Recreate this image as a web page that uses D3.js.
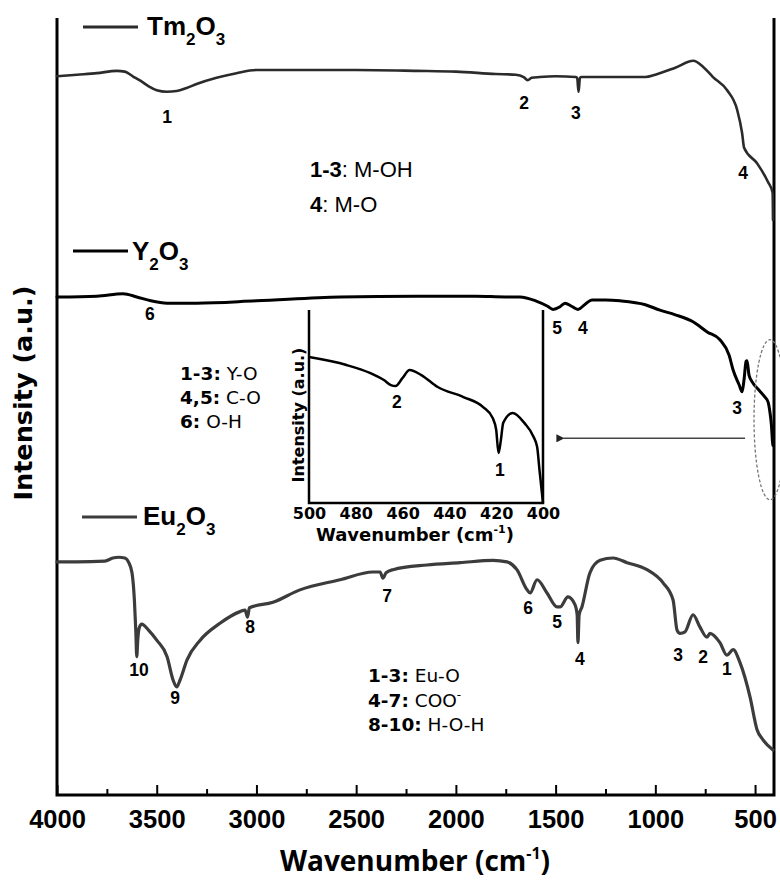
<!DOCTYPE html>
<html><head><meta charset="utf-8">
<script src="https://cdn.jsdelivr.net/npm/d3@7"></script>
<style>body{margin:0;background:#fff}</style>
</head><body><svg id="c" width="780" height="886"></svg>
<script>
// ---------- DATA ----------
const xTicksMajor = [4000,3500,3000,2500,2000,1500,1000,500];
const xTicksMinor = [3750,3250,2750,2250,1750,1250,750];
const insetTicks = [500,480,460,440,420,400];

const tmWave = [4000,3900,3800,3700,3660,3620,3580,3540,3500,3450,3400,3350,3300,3200,3100,3000,2800,2500,2200,2000,1800,1700,1660,1640,1620,1580,1500,1400,1392,1385,1378,1370,1200,1050,1000,900,810,760,711,640,590,565,555,490,435,412,410];
const tmInt  = [92.5,92.7,92.9,93.2,93.1,92.5,91.9,91.2,90.7,90.5,90.6,91.0,91.5,92.3,92.9,93.3,93.3,93.3,93.2,93.1,92.8,92.7,92.4,92.0,92.3,92.4,92.5,92.4,92.3,90.5,92.3,92.4,92.4,92.4,92.7,93.6,94.5,93.7,92.4,90.7,88.2,85.2,83.3,81.3,78.9,77.5,74.0];

const yWave = [4000,3800,3669,3600,3530,3448,3300,3000,2581,2200,1900,1750,1679,1600,1540,1513,1480,1453,1420,1388,1350,1318,1250,1177,1050,977,900,811,740,676,630,610,580,565,555,545,540,530,510,480,450,435,425,418,412,410];
const yInt  = [64.1,64.2,64.5,64.1,63.6,63.3,63.3,63.6,64.1,64.2,64.2,64.1,64.1,63.6,62.9,62.5,62.8,63.3,62.9,62.5,63.2,63.7,63.7,63.6,63.1,62.4,61.8,60.9,59.6,58.6,56.6,54.7,52.8,51.9,53.5,55.8,55.9,54.0,53.0,52.1,51.2,50.6,49.2,47.6,45.3,45.0];

const euWave = [4000,3900,3760,3720,3690,3660,3640,3624,3612,3605,3600,3595,3588,3575,3540,3499,3448,3418,3400,3383,3348,3283,3183,3082,3057,3045,3035,2917,2782,2581,2416,2380,2366,2350,2315,2145,1979,1814,1744,1694,1643,1628,1593,1543,1493,1478,1438,1403,1392,1388,1382,1368,1328,1277,1212,1142,1042,961,911,891,876,851,811,776,741,726,676,641,610,575,525,490,460,410];
const euInt  = [30.0,30.0,30.1,30.5,30.6,30.5,29.9,28.6,25.1,21.2,17.8,20.0,21.5,22.0,21.2,19.9,17.8,14.8,13.9,14.8,17.4,19.9,22.1,23.6,23.8,22.9,24.1,24.8,26.4,27.7,28.7,28.7,27.9,28.6,29.0,29.6,29.9,30.2,30.0,29.0,26.4,26.0,27.7,26.0,24.2,24.2,25.5,24.5,23.2,19.6,23.2,24.2,28.6,30.2,30.5,29.9,29.0,27.3,25.1,21.2,20.8,21.0,23.2,21.6,20.3,20.8,19.6,18.0,18.7,17.0,12.6,8.4,7.1,5.8];

const insWave = [500,484,474,468,465,463,460,457,452,445,434,425.6,421.5,420,419,418,417,413,408,404,402.5,401.5,400];
const insInt  = [75.6,71.5,67.4,63.7,61.1,60.6,64.8,68.9,66.3,60.1,54.9,49.7,44.0,37.8,25.9,32.6,41.5,46.6,41.5,34.2,29.0,17.1,0];

// peak labels: [text, wavenumber, intensity]
const tmPeaks = [["1",3448,87.3],["2",1658,89.1],["3",1398,87.8],["4",560,80.1]];
const yPeaks  = [["6",3534,61.9],["5",1493,60.2],["4",1363,60.2],["3",590,49.8]];
const euPeaks = [["10",3589,16.1],["9",3408,12.5],["8",3032,21.6],["7",2345,25.7],["6",1638,24.1],["5",1493,22.3],["4",1378,17.6],["3",886,18.0],["2",761,17.8],["1",641,16.3]];
const insPeaks = [["2",462.4,52.3],["1",418.4,17.1]];

const tmNotes = [["1-3",": M-OH"],["4",": M-O"]];
const yNotes  = [["1-3:"," Y-O"],["4,5:"," C-O"],["6:"," O-H"]];
const euNotes = [["1-3:"," Eu-O", ""],["4-7:"," COO", "-"],["8-10:"," H-O-H", ""]];

// ---------- DRAW ----------
const svg = d3.select("#c");
svg.append("rect").attr("width",780).attr("height",886).attr("fill","#fff");

const L=57, R=775, T=18, B=795;
const x = d3.scaleLinear().domain([4000,400]).range([L,R]);
const y = d3.scaleLinear().domain([0,100]).range([B,T]);
const AR = "'Liberation Sans', Arial, sans-serif";
const DJ = "'DejaVu Sans', Verdana, sans-serif";

// axes
const gMaj = svg.append("g").attr("transform",`translate(0,${B})`)
  .call(d3.axisBottom(x).tickValues(xTicksMajor).tickSizeInner(-10).tickSizeOuter(0).tickPadding(15).tickFormat(d3.format("d")));
gMaj.select(".domain").remove();
gMaj.selectAll(".tick line").attr("stroke","#000").attr("stroke-width",2);
gMaj.selectAll(".tick text").attr("font-family",AR).attr("font-weight","bold").attr("font-size",25.5).attr("fill","#000");
const gMin = svg.append("g").attr("transform",`translate(0,${B})`)
  .call(d3.axisBottom(x).tickValues(xTicksMinor).tickSizeInner(-6).tickSizeOuter(0).tickFormat(""));
gMin.select(".domain").remove();
gMin.selectAll(".tick line").attr("stroke","#000").attr("stroke-width",2);

svg.append("path").attr("d",`M${L},${T}V${B}H${R-1}V${T}`).attr("fill","none").attr("stroke","#000").attr("stroke-width",3);

// titles
const xt = svg.append("text").attr("x",415).attr("y",871).attr("text-anchor","middle")
  .attr("font-family","'Open Sans', sans-serif").attr("font-weight","bold").attr("font-size",28).attr("fill","#000");
xt.append("tspan").text("Wavenumber (cm");
xt.append("tspan").text("-1").attr("font-size",16).attr("dy",-12);
xt.append("tspan").text(")").attr("dy",12);

svg.append("text").attr("transform","translate(23,393) rotate(-90)").attr("text-anchor","middle").attr("dy","0.35em")
  .attr("font-family",DJ).attr("font-weight","bold").attr("font-size",25.5).attr("fill","#000").text("Intensity (a.u.)");

// series
const line = (wv, iv, sx, sy) => d3.line().curve(d3.curveMonotoneX).x((d,i)=>sx(wv[i])).y((d,i)=>sy(iv[i]))(wv);
const series = [
  {w:tmWave,v:tmInt,c:"#2b2b2b",sw:2.6},
  {w:yWave,v:yInt,c:"#000",sw:3},
  {w:euWave,v:euInt,c:"#3c3c3c",sw:3.2}
];
series.forEach(s=>{
  svg.append("path").attr("d",line(s.w,s.v,x,y)).attr("fill","none").attr("stroke",s.c)
    .attr("stroke-width",s.sw).attr("stroke-linejoin","round").attr("stroke-linecap","round");
});

// legends
function legend(x1,x2,ly,tx,ty,name,col){
  svg.append("line").attr("x1",x1).attr("x2",x2).attr("y1",ly).attr("y2",ly).attr("stroke",col).attr("stroke-width",3);
  const t = svg.append("text").attr("x",tx).attr("y",ty).attr("font-family",AR).attr("font-weight","bold").attr("font-size",26).attr("fill","#000");
  t.append("tspan").text(name[0]);
  t.append("tspan").text("2").attr("font-size",17).attr("dy",10);
  t.append("tspan").text("O").attr("dy",-10);
  t.append("tspan").text("3").attr("font-size",17).attr("dy",10);
}
legend(83,138,27,147,35,["Tm"],"#2b2b2b");
legend(73,128,251,132,260,["Y"],"#000");
legend(82,137,517,143,525,["Eu"],"#3c3c3c");

// peak labels
function peaks(arr, sx, sy, fs){
  arr.forEach(p=>{
    svg.append("text").attr("x",sx(p[1])).attr("y",sy(p[2])).attr("dy","0.36em").attr("text-anchor","middle")
      .attr("font-family",AR).attr("font-weight","bold").attr("font-size",fs).attr("fill","#000").text(p[0]);
  });
}
peaks(tmPeaks,x,y,17.5); peaks(yPeaks,x,y,17.5); peaks(euPeaks,x,y,17.5);

// notes
tmNotes.forEach((n,i)=>{
  const t = svg.append("text").attr("x",310).attr("y",177+i*35).attr("font-family",AR).attr("font-size",22).attr("fill","#000");
  t.append("tspan").attr("font-weight","bold").text(n[0]);
  t.append("tspan").text(n[1]);
});
yNotes.forEach((n,i)=>{
  const t = svg.append("text").attr("x",180).attr("y",380+i*24).attr("font-family",DJ).attr("font-size",18.5).attr("fill","#000");
  t.append("tspan").attr("font-weight","bold").text(n[0]);
  t.append("tspan").text(n[1]);
});
euNotes.forEach((n,i)=>{
  const t = svg.append("text").attr("x",368).attr("y",682+i*24.5).attr("font-family",DJ).attr("font-size",18.5).attr("fill","#000");
  t.append("tspan").attr("font-weight","bold").text(n[0]);
  t.append("tspan").text(n[1]);
  if(n[2]) { t.append("tspan").text(n[2]).attr("font-size",12).attr("dy",-8); }
});

// ellipse + arrow
svg.append("ellipse").attr("cx",x(425)).attr("cy",y(48.3)).attr("rx",16).attr("ry",80)
  .attr("fill","none").attr("stroke","#777").attr("stroke-width",1.3).attr("stroke-dasharray","3,2");
svg.append("defs").append("marker").attr("id","ah").attr("viewBox","0 0 10 10").attr("refX",1).attr("refY",5)
  .attr("markerWidth",13).attr("markerHeight",8).attr("markerUnits","userSpaceOnUse").attr("orient","auto")
  .append("path").attr("d","M10,0L0,5L10,10Z").attr("fill","#222");
svg.append("line").attr("x1",x(550)).attr("x2",x(1460)).attr("y1",y(45.9)).attr("y2",y(45.9))
  .attr("stroke","#444").attr("stroke-width",1.5).attr("marker-end","url(#ah)");

// inset
const ix = d3.scaleLinear().domain([500,400]).range([309,543]);
const iy = d3.scaleLinear().domain([0,100]).range([503,310]);
svg.append("rect").attr("x",310).attr("y",310).attr("width",232).attr("height",192).attr("fill","#fff");
const gi = svg.append("g").attr("transform","translate(0,503)")
  .call(d3.axisBottom(ix).tickValues(insetTicks).tickSize(0).tickPadding(5).tickFormat(d3.format("d")));
gi.select(".domain").remove();
gi.selectAll(".tick text").attr("font-family",DJ).attr("font-weight","bold").attr("font-size",16).attr("fill","#000");
svg.append("path").attr("d","M309,310V503H543V310").attr("fill","none").attr("stroke","#000").attr("stroke-width",2.5);
svg.append("path").attr("d",line(insWave,insInt,ix,iy)).attr("fill","none").attr("stroke","#000")
  .attr("stroke-width",2.5).attr("stroke-linejoin","round");
peaks(insPeaks,ix,iy,17.5);
const it = svg.append("text").attr("x",415).attr("y",541).attr("text-anchor","middle")
  .attr("font-family",DJ).attr("font-weight","bold").attr("font-size",18).attr("fill","#000");
it.append("tspan").text("Wavenumber (cm");
it.append("tspan").text("-1").attr("font-size",11).attr("dy",-8);
it.append("tspan").text(")").attr("dy",8);
svg.append("text").attr("transform","translate(298,415) rotate(-90)").attr("text-anchor","middle").attr("dy","0.35em")
  .attr("font-family",DJ).attr("font-weight","bold").attr("font-size",16).attr("fill","#000").text("Intensity (a.u.)");
</script>
</body></html>
